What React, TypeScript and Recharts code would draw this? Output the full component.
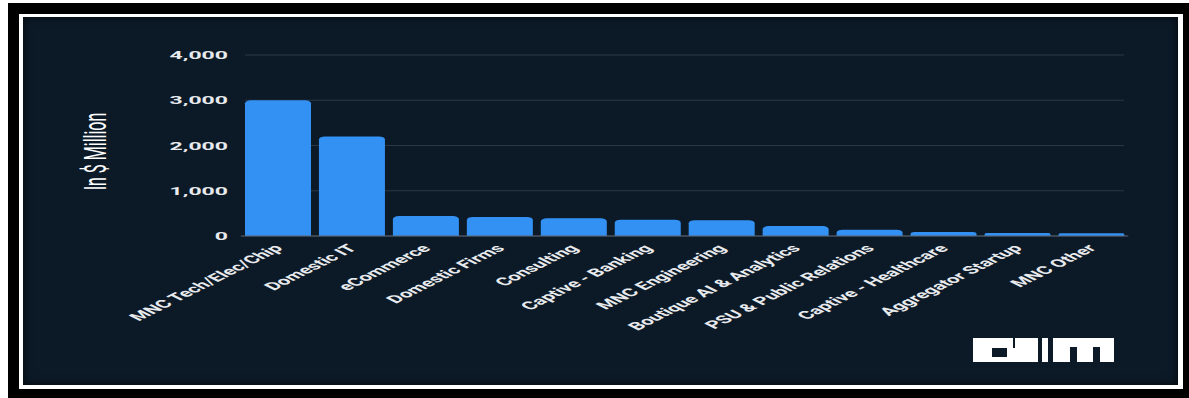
import { Bar, BarChart, CartesianGrid, XAxis, YAxis } from 'recharts'

// values, in $ million
const categories = [
    'MNC Tech/Elec/Chip',
    'Domestic IT',
    'eCommerce',
    'Domestic Firms',
    'Consulting',
    'Captive - Banking',
    'MNC Engineering',
    'Boutique AI & Analytics',
    'PSU & Public Relations',
    'Captive - Healthcare',
    'Aggregator Startup',
    'MNC Other',
]
const spend = [3000, 2200, 440, 420, 390, 360, 350, 220, 140, 90, 65, 60]
const yTicks = [0, 1000, 2000, 3000, 4000]

const data = categories.map((name, i) => ({ name, value: spend[i] }))

const FONT = 'Roboto, "Open Sans", sans-serif'
const TEXT = '#e8eaed'
const NAVY = '#0c1a28'

// the source image is stretched 2x sideways, so the chart is drawn at half width and scaled
function XTick(props: any) {
    const { x, y, payload } = props
    return (
        <g transform={`translate(${x + 3},${y + 5})`}>
            <text
                x={0}
                y={0}
                textAnchor="end"
                transform="rotate(-45)"
                fill={TEXT}
                fontSize={11}
                fontWeight={700}
                fontFamily={FONT}
            >
                {payload.value}
            </text>
        </g>
    )
}

function YLabel(props: any) {
    const vb = props.viewBox
    if (!vb) return null
    const cx = 36
    const cy = vb.y + vb.height / 2 + 6
    return (
        <text
            x={cx}
            y={cy}
            transform={`rotate(-90, ${cx}, ${cy})`}
            textAnchor="middle"
            dominantBaseline="central"
            fill="#ffffff"
            fontSize={16}
            fontFamily={FONT}
        >
            In $ Million
        </text>
    )
}

function Logo() {
    return (
        <svg width={150} height={30} style={{ position: 'absolute', left: 960, top: 332 }}>
            <g fill="#ffffff">
                <rect x={5} y={3} width={65} height={24} />
                <rect x={74} y={3} width={6} height={24} />
                <rect x={85} y={3} width={61} height={24} />
            </g>
            <g fill={NAVY}>
                <rect x={24} y={13} width={15} height={9} />
                <rect x={45} y={3} width={2} height={10} />
                <rect x={102} y={12} width={7} height={15} />
                <rect x={125} y={12} width={7} height={15} />
            </g>
        </svg>
    )
}

export default function App() {
    return (
        <div style={{ position: 'absolute', left: 8, top: 3, width: 1181, height: 395 }}>
            <div
                style={{
                    position: 'absolute',
                    left: 0,
                    top: 0,
                    width: 1181,
                    height: 395,
                    background: '#000000',
                }}
            />
            <div
                style={{
                    position: 'absolute',
                    left: 11,
                    top: 11,
                    width: 1164,
                    height: 375,
                    background: '#ffffff',
                }}
            />
            <div
                style={{
                    position: 'absolute',
                    left: 15,
                    top: 14,
                    width: 1155,
                    height: 368,
                    background: NAVY,
                    boxShadow: 'inset 0 0 10px rgba(0,0,0,0.7)',
                }}
            />
            <div
                style={{
                    position: 'absolute',
                    left: 15,
                    top: 14,
                    width: 578,
                    height: 368,
                    transform: 'scaleX(2)',
                    transformOrigin: '0 0',
                }}
            >
                <BarChart
                    width={578}
                    height={368}
                    data={data}
                    margin={{ top: 38, right: 25.4, bottom: 49, left: 0 }}
                    barCategoryGap={2.1}
                >
                    <CartesianGrid stroke="#2a3746" vertical={false} x={111} width={439.5} />
                    <XAxis
                        dataKey="name"
                        interval={0}
                        height={100}
                        tickLine={false}
                        axisLine={{ stroke: '#5a6573' }}
                        tick={XTick}
                    />
                    <YAxis
                        width={108.9}
                        domain={[0, 4000]}
                        ticks={yTicks}
                        tickLine={false}
                        axisLine={false}
                        tickMargin={0.4}
                        tickFormatter={(v: number) => v.toLocaleString('en-US')}
                        tick={{ fill: TEXT, fontSize: 11.5, fontWeight: 700, fontFamily: FONT }}
                        label={<YLabel />}
                    />
                    <Bar
                        dataKey="value"
                        fill="#3391f4"
                        radius={[3, 3, 0, 0]}
                        isAnimationActive={false}
                    />
                </BarChart>
            </div>
            <Logo />
        </div>
    )
}
